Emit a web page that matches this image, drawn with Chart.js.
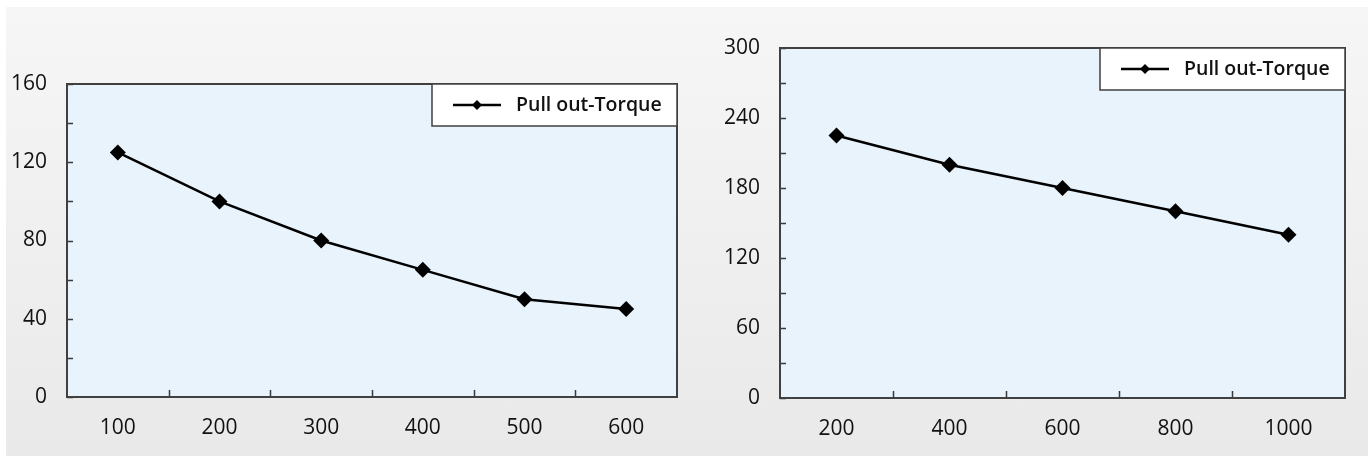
<!DOCTYPE html>
<html>
<head>
<meta charset="utf-8">
<script src="https://cdn.jsdelivr.net/npm/chart.js@4.4.1/dist/chart.umd.min.js"></script>
<style>
  html, body { margin: 0; padding: 0; background: #fff; }
  #bg {
    position: absolute; left: 6px; top: 7px; width: 1362px; height: 449px;
    background: linear-gradient(#f6f6f6, #e9e9e9);
  }
  canvas { position: absolute; top: 0; }
  #chartLeft { left: 0; }
  #chartRight { left: 690px; }
</style>
</head>
<body>
<div id="bg"></div>
<canvas id="chartLeft" width="690" height="456"></canvas>
<canvas id="chartRight" width="678" height="456"></canvas>
<script>
// left chart
var speedLeft = ["100", "200", "300", "400", "500", "600"];
var torqueLeft = [125, 100, 80, 65, 50, 45];

// right chart
var speedRight = ["200", "400", "600", "800", "1000"];
var torqueRight = [225, 200, 180, 160, 140];

var seriesName = "Pull out-Torque";
var fontFamily = "'Open Sans', 'Noto Sans', sans-serif";

// plot fill, frame and inward ticks like the old excel look
var framePlugin = {
  id: "frame",
  beforeDraw: function (chart) {
    var a = chart.chartArea, ctx = chart.ctx;
    ctx.save();
    ctx.fillStyle = "#e8f3fc";
    ctx.fillRect(a.left, a.top, a.right - a.left, a.bottom - a.top);
    ctx.restore();
  },
  afterDraw: function (chart) {
    var a = chart.chartArea, ctx = chart.ctx;
    var yScale = chart.scales.y, xScale = chart.scales.x;
    ctx.save();
    ctx.strokeStyle = "#3a3a3a";
    ctx.lineWidth = 1.5;
    ctx.beginPath();
    yScale.ticks.forEach(function (t) {
      var py = Math.round(yScale.getPixelForValue(t.value)) + 0.5;
      ctx.moveTo(a.left, py);
      ctx.lineTo(a.left + 6, py);
    });
    for (var i = 1; i < xScale.ticks.length; i++) {
      var px = Math.round((xScale.getPixelForValue(i - 1) + xScale.getPixelForValue(i)) / 2) + 0.5;
      ctx.moveTo(px, a.bottom);
      ctx.lineTo(px, a.bottom - 7);
    }
    ctx.stroke();

    ctx.lineWidth = 2;
    ctx.strokeStyle = "#404040";
    ctx.strokeRect(a.left, a.top, a.right - a.left, a.bottom - a.top);

    // legend box in the top right corner
    var bw = 245, bh = 42;
    var bx = a.right - bw, by = a.top;
    ctx.fillStyle = "#ffffff";
    ctx.fillRect(bx, by, bw, bh);
    ctx.lineWidth = 1.5;
    ctx.strokeStyle = "#404040";
    ctx.strokeRect(bx, by, bw, bh);
    var cy = by + bh / 2;
    ctx.strokeStyle = "#000";
    ctx.lineWidth = 2.5;
    ctx.beginPath();
    ctx.moveTo(bx + 21, cy);
    ctx.lineTo(bx + 69, cy);
    ctx.stroke();
    ctx.fillStyle = "#000";
    ctx.beginPath();
    ctx.moveTo(bx + 45, cy - 5);
    ctx.lineTo(bx + 50, cy);
    ctx.lineTo(bx + 45, cy + 5);
    ctx.lineTo(bx + 40, cy);
    ctx.closePath();
    ctx.fill();
    ctx.fillStyle = "#111";
    ctx.font = "600 19.5px " + fontFamily;
    ctx.textBaseline = "middle";
    ctx.textAlign = "left";
    ctx.fillText(chart.data.datasets[0].label, bx + 84, cy);
    ctx.restore();
  }
};

function makeChart(id, labels, values, yMax, yStep, labelStep, pad, yWidth, xHeight) {
  var ctx = document.getElementById(id).getContext("2d");
  return new Chart(ctx, {
    type: "line",
    data: {
      labels: labels,
      datasets: [{
        label: seriesName,
        data: values,
        borderColor: "#000",
        borderWidth: 2.5,
        tension: 0,
        pointStyle: "rectRot",
        pointRadius: 8,
        pointBackgroundColor: "#000",
        pointBorderColor: "#000",
        pointBorderWidth: 0
      }]
    },
    options: {
      responsive: false,
      animation: false,
      layout: { padding: pad },
      plugins: {
        legend: { display: false },
        tooltip: { enabled: false }
      },
      scales: {
        x: {
          offset: true,
          grid: { display: false, drawTicks: false },
          border: { display: false },
          afterFit: function (s) { s.height = xHeight; },
          ticks: {
            color: "#111",
            padding: 18,
            maxRotation: 0,
            font: { size: 21, family: fontFamily }
          }
        },
        y: {
          min: 0,
          max: yMax,
          grid: { display: false, drawTicks: false },
          border: { display: false },
          afterFit: function (s) { s.width = yWidth; },
          ticks: {
            stepSize: yStep,
            autoSkip: false,
            color: "#111",
            padding: 20,
            font: { size: 21, family: fontFamily },
            callback: function (v) { return v % labelStep === 0 ? v : ""; }
          }
        }
      }
    },
    plugins: [framePlugin]
  });
}

makeChart("chartLeft", speedLeft, torqueLeft, 160, 20, 40,
  { top: 84, right: 13, bottom: 0, left: 0 }, 67, 59);
makeChart("chartRight", speedRight, torqueRight, 300, 30, 60,
  { top: 48, right: 23, bottom: 0, left: 0 }, 90, 58);
</script>
</body>
</html>
